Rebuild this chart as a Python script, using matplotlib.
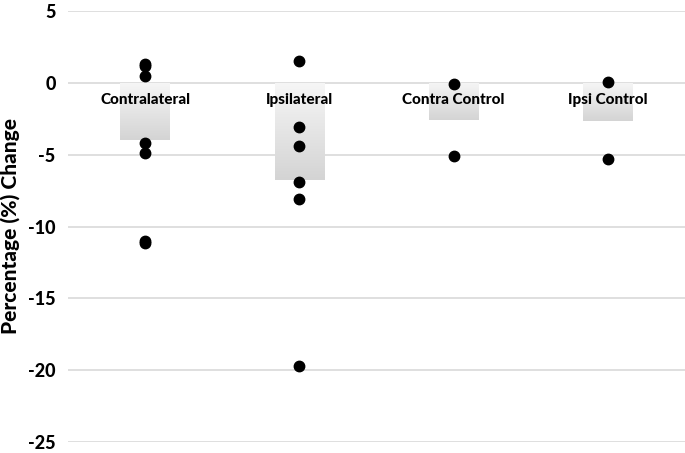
import matplotlib
matplotlib.use("Agg")
import matplotlib.pyplot as plt
import numpy as np

plt.rcParams['font.family'] = ['Lato', 'DejaVu Sans']

categories = ["Contralateral", "Ipsilateral", "Contra Control", "Ipsi Control"]
points = [
    [1.32, 1.18, 0.45, -4.18, -4.87, -11.0, -11.14],
    [1.5, -3.06, -4.39, -6.9, -8.08, -19.7],
    [-0.05, -5.08],
    [0.05, -5.29],
]
means = [-4.0, -6.75, -2.6, -2.65]
yticks = [5, 0, -5, -10, -15, -20, -25]

fig = plt.figure(figsize=(6.85, 4.53), dpi=100)
ax = fig.add_axes([68/685, 11/453, 1 - 68/685, 431/453])
ax.set_xlim(-0.5, len(categories) - 0.5)
ax.set_ylim(-25, 5)

for s in ax.spines.values():
    s.set_visible(False)
ax.set_yticks(yticks)
ax.set_yticklabels([str(t) for t in yticks], fontsize=13, fontweight='black')
ax.tick_params(axis='y', length=0, pad=9)
ax.set_xticks([])
ax.grid(axis='y', color='#d9d9d9', linewidth=1.2)
ax.set_axisbelow(True)

bw = 0.32
grad = np.linspace(0, 1, 256).reshape(-1, 1)
cmap = matplotlib.colors.LinearSegmentedColormap.from_list("g", ["#f6f6f6", "#d4d4d4"])
for i, m in enumerate(means):
    x0, x1 = i - bw/2, i + bw/2
    im = ax.imshow(grad, extent=[x0, x1, m, 0], cmap=cmap, aspect='auto', origin='upper', zorder=1)
    rect = plt.Rectangle((x0, m), bw, -m, transform=ax.transData, facecolor='none', edgecolor='none')
    ax.add_patch(rect)
    im.set_clip_path(rect)

for i, vals in enumerate(points):
    ax.plot([i]*len(vals), vals, 'o', color='black', markersize=7.5, zorder=3, clip_on=False)

for i, c in enumerate(categories):
    ax.text(i, -1.2, c, ha='center', va='center', fontsize=11, fontweight='black', zorder=4)

ax.set_ylabel("Percentage (%) Change", fontsize=15, fontweight='black', labelpad=6)

fig.savefig("out.png", dpi=100)
